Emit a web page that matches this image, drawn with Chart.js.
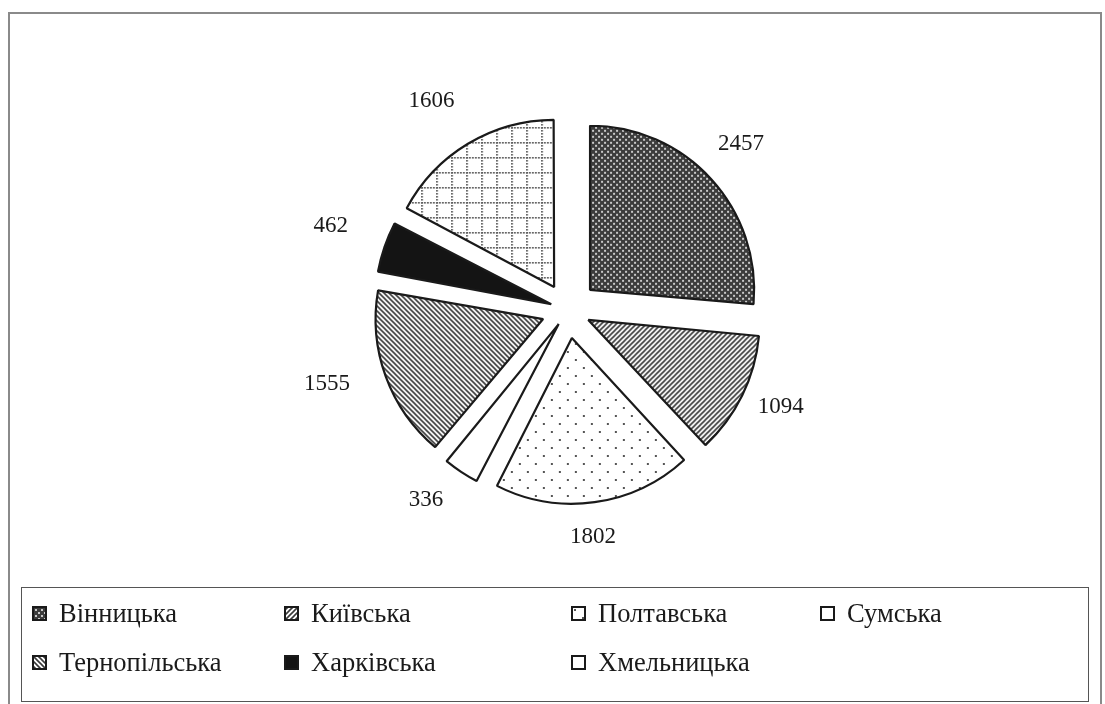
<!DOCTYPE html>
<html>
<head>
<meta charset="utf-8">
<script src="https://cdn.jsdelivr.net/npm/chart.js@4.4.1/dist/chart.umd.min.js"></script>
<style>
  html, body { margin: 0; padding: 0; background: #fff; }
  body { width: 1105px; height: 704px; position: relative; overflow: hidden; font-family: "Liberation Serif", "Times New Roman", serif; }
  #frame { position: absolute; left: 8px; top: 12px; width: 1094px; height: 700px; border: 2px solid #8a8a8a; box-sizing: border-box; }
  #wrap { position: absolute; left: 0; top: 0; width: 1105px; height: 704px; }
  #legend { position: absolute; left: 21px; top: 587px; width: 1068px; height: 115px; border: 1.5px solid #555; box-sizing: border-box; }
  .item { position: absolute; display: flex; align-items: center; font-size: 26.5px; color: #1a1a1a; white-space: nowrap; line-height: 1; }
  .item canvas { margin-right: 12px; display: block; }
</style>
</head>
<body>
<div id="frame"></div>
<div id="wrap"><canvas id="c" width="1105" height="704"></canvas></div>
<div id="legend"></div>
<script>
const categories = ["Вінницька", "Київська", "Полтавська", "Сумська", "Тернопільська", "Харківська", "Хмельницька"];
const values = [2457, 1094, 1802, 336, 1555, 462, 1606];

const EXPLODE = 30; // uniform pixel displacement of every slice

function makePattern(kind) {
  const t = document.createElement('canvas');
  const g = t.getContext('2d');
  let s;
  if (kind === 'check') {
    s = 6; t.width = s; t.height = s;
    g.fillStyle = '#3c3c3c'; g.fillRect(0, 0, s, s);
    g.fillStyle = '#c8c8c8';
    g.fillRect(0, 0, 2, 2); g.fillRect(3, 3, 2, 2);
  } else if (kind === 'fwd' || kind === 'back') {
    s = 5; t.width = s; t.height = s;
    g.fillStyle = '#fff'; g.fillRect(0, 0, s, s);
    g.strokeStyle = '#3a3a3a'; g.lineWidth = 1.6;
    g.beginPath();
    if (kind === 'fwd') {
      g.moveTo(0, s); g.lineTo(s, 0);
      g.moveTo(-1, 1); g.lineTo(1, -1);
      g.moveTo(s - 1, s + 1); g.lineTo(s + 1, s - 1);
    } else {
      g.moveTo(0, 0); g.lineTo(s, s);
      g.moveTo(-1, s - 1); g.lineTo(1, s + 1);
      g.moveTo(s - 1, -1); g.lineTo(s + 1, 1);
    }
    g.stroke();
  } else if (kind === 'dots') {
    s = 16; t.width = s; t.height = s;
    g.fillStyle = '#fff'; g.fillRect(0, 0, s, s);
    g.fillStyle = '#555';
    g.fillRect(3, 3, 2, 2); g.fillRect(11, 11, 2, 2);
  } else if (kind === 'grid') {
    s = 15; t.width = s; t.height = s;
    g.fillStyle = '#fff'; g.fillRect(0, 0, s, s);
    g.fillStyle = '#444';
    for (let i = 0; i < s; i += 3) { g.fillRect(i, 0, 1.6, 1.6); g.fillRect(0, i, 1.6, 1.6); }
  } else if (kind === 'white') {
    return '#ffffff';
  } else if (kind === 'black') {
    return '#141414';
  }
  return g.createPattern(t, 'repeat');
}

const fillKinds = ['check', 'fwd', 'dots', 'white', 'back', 'black', 'grid'];
const fills = fillKinds.map(makePattern);

// Chart.js moves an arc by offset/4 * (1 + (1 - sin(circumference))); invert that
// so every slice is pulled out by the same EXPLODE pixels.
const total = values.reduce((a, b) => a + b, 0);
function arcOffset(ctx) {
  const circ = Math.min(Math.PI, 2 * Math.PI * values[ctx.dataIndex] / total);
  const fix = 1 - Math.sin(circ);
  return EXPLODE * 4 / (1 + fix);
}

const labelPlugin = {
  id: 'outsideLabels',
  afterDatasetsDraw(chart) {
    const ctx = chart.ctx;
    const meta = chart.getDatasetMeta(0);
    const ds = chart.data.datasets[0];
    ctx.save();
    ctx.font = '23px "Liberation Serif", "Times New Roman", serif';
    ctx.fillStyle = '#1a1a1a';
    ctx.textAlign = 'center';
    ctx.textBaseline = 'middle';
    meta.data.forEach((arc, i) => {
      const p = arc.getProps(['x', 'y', 'startAngle', 'endAngle', 'outerRadius'], true);
      const mid = (p.startAngle + p.endAngle) / 2;
      const c = Math.cos(mid), sn = Math.sin(mid);
      const txt = String(ds.data[i]);
      const w = ctx.measureText(txt).width, h = 24;
      const r = p.outerRadius + EXPLODE + 30;
      const x = p.x + c * r + c * w / 2 - 9;
      const y = p.y + sn * r + sn * h / 2 - 7;
      ctx.fillText(txt, x, y);
    });
    ctx.restore();
  }
};

new Chart(document.getElementById('c'), {
  type: 'pie',
  data: {
    labels: categories,
    datasets: [{
      data: values,
      backgroundColor: fills,
      borderColor: '#1a1a1a',
      borderWidth: 2.2,
      offset: arcOffset,
      hoverOffset: 0,
      radius: 164
    }]
  },
  options: {
    responsive: false,
    animation: false,
    events: [],
    layout: { padding: { left: 31, right: 0, top: 0, bottom: 84 } },
    plugins: { legend: { display: false }, tooltip: { enabled: false } }
  },
  plugins: [labelPlugin]
});

// HTML legend
const legend = document.getElementById('legend');
const colX = [10, 262, 549, 798];
const rowY = [25, 74];
categories.forEach((name, i) => {
  const d = document.createElement('div');
  d.className = 'item';
  d.style.left = colX[i % 4] + 'px';
  d.style.top = (rowY[Math.floor(i / 4)] - 13) + 'px';
  const m = document.createElement('canvas');
  m.width = 15; m.height = 15;
  const g = m.getContext('2d');
  g.fillStyle = fills[i]; g.fillRect(0, 0, 15, 15);
  g.strokeStyle = '#1a1a1a'; g.lineWidth = 2; g.strokeRect(1, 1, 13, 13);
  d.appendChild(m);
  const s = document.createElement('span');
  s.textContent = name;
  d.appendChild(s);
  legend.appendChild(d);
});
</script>
</body>
</html>
